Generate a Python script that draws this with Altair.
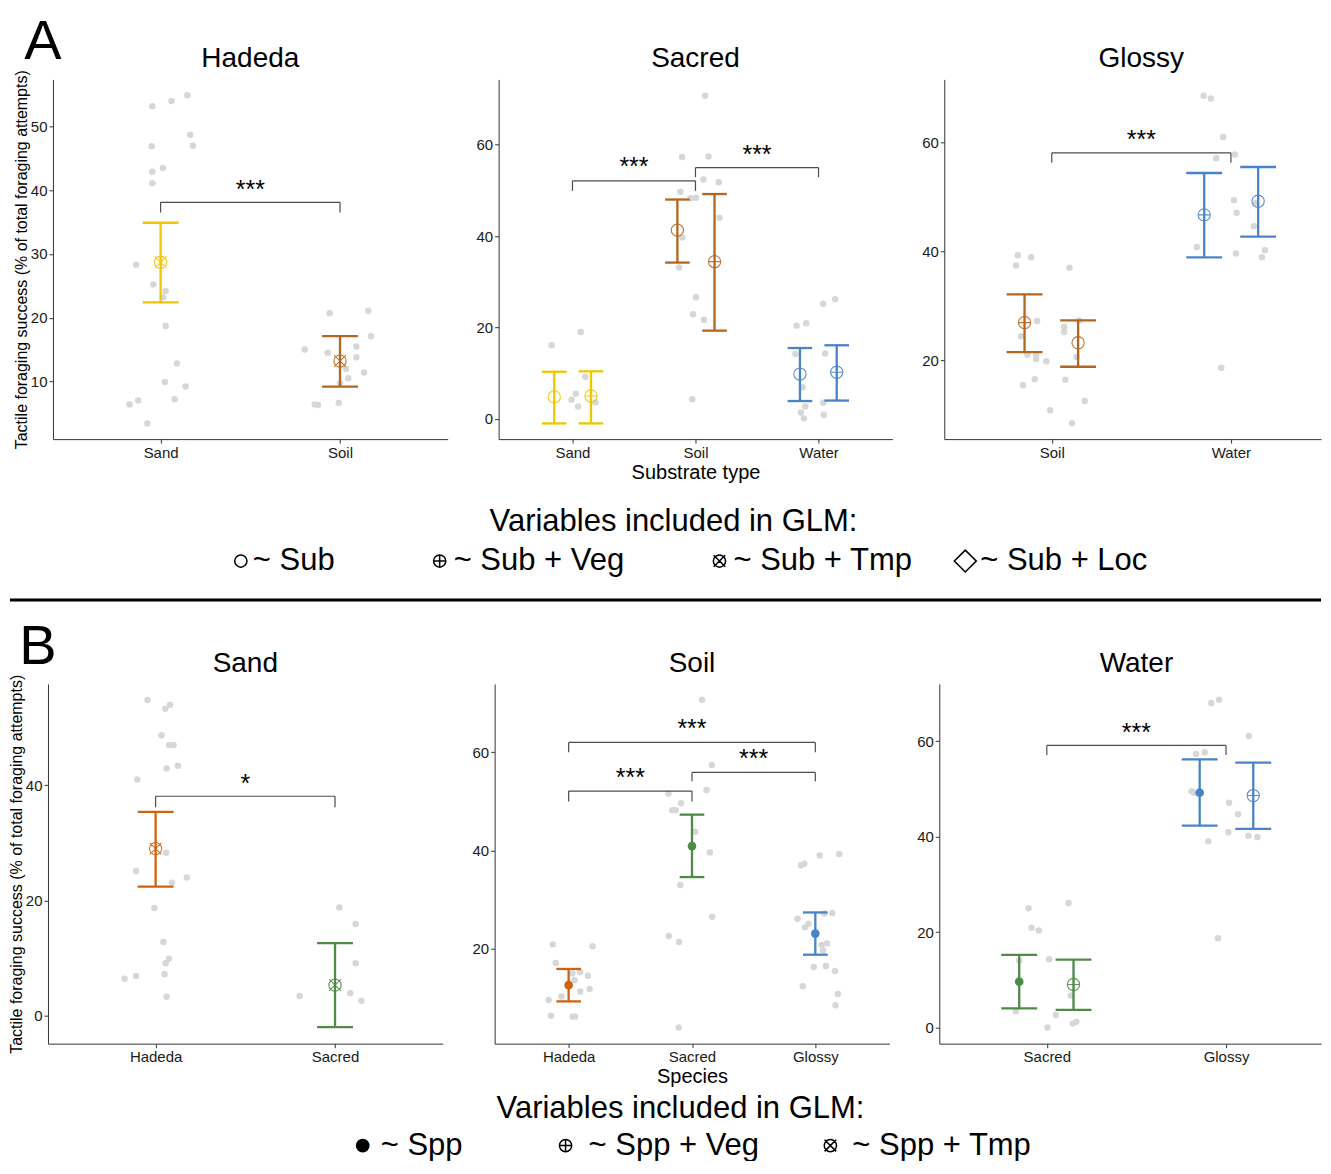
import altair as alt
import pandas as pd

FONT = "Liberation Sans"
GRAY_PT = "#D7D7D7"
BRACKET = "#4D4D4D"
COLORS = {"Sand": "#EFC600", "Soil": "#B3661F", "Water": "#4A84C8",
          "Hadeda": "#D2620F", "Sacred": "#4F8A47", "Glossy": "#4A84C8"}
CIRCLE = "M -1 0 A 1 1 0 1 0 1 0 A 1 1 0 1 0 -1 0 Z"
SHAPES = {"Sub": CIRCLE,
          "Veg": CIRCLE + " M -1 0 L 1 0 M 0 -1 L 0 1",
          "Tmp": CIRCLE + " M -0.95 -0.95 L 0.95 0.95 M -0.95 0.95 L 0.95 -0.95"}
CAP = 0.1
PANEL_H = 360

# ---------------- Panel A1: Hadeda ----------------
A1_CATS = ["Sand", "Soil"]
A1_PX = [0.954, 1.061, 1.149, 1.165, 1.180, 0.950, 0.954, 1.013, 0.954, 0.864, 0.959,
         1.028, 1.013, 1.028, 1.091, 1.024, 1.139, 0.827, 0.875, 1.078, 0.926,
         1.942, 2.158, 2.173, 1.803, 1.931, 2.091, 2.091, 2.033, 2.134, 2.046, 2.000,
         1.859, 1.877, 1.993]
A1_PY = [53.2, 54.0, 54.9, 48.7, 47.0, 46.9, 42.9, 43.5, 41.1, 28.3, 25.2,
         24.2, 23.2, 18.7, 12.8, 9.9, 9.2, 6.4, 7.0, 7.2, 3.4,
         20.7, 21.1, 17.1, 15.0, 14.5, 15.5, 13.8, 12.0, 11.4, 10.5, 9.7,
         6.4, 6.3, 6.6]
A1_MX = [1.0, 2.0]
A1_MEAN = [28.7, 13.2]
A1_LO = [22.4, 9.2]
A1_HI = [34.9, 17.1]
A1_MODEL = ["Tmp", "Tmp"]
A1_GROUP = ["Sand", "Soil"]
A1_BR = [(1, 2, 38.1, 36.5, 41.0, "***")]

# ---------------- Panel A2: Sacred ----------------
A2_CATS = ["Sand", "Soil", "Water"]
A2_PX = [0.830, 1.067, 1.105, 1.027, 0.992, 1.046, 1.188,
         2.078, 1.891, 2.106, 2.065, 2.189, 1.877, 1.961, 2.004, 2.195, 1.894, 1.867,
         2.004, 1.980, 2.069, 1.974,
         3.135, 3.038, 2.822, 2.900, 2.812, 3.054, 2.871, 2.892, 2.857, 2.881, 3.038, 3.043]
A2_PY = [16.1, 19.0, 9.2, 5.5, 4.2, 2.7, 3.6,
         70.7, 57.3, 57.4, 52.4, 51.8, 49.7, 48.3, 48.4, 44.0, 39.7, 33.1,
         26.6, 22.9, 21.7, 4.3,
         26.2, 25.2, 20.4, 20.9, 14.2, 14.3, 6.9, 2.7, 1.4, 0.1, 3.5, 0.9]
A2_MX = [0.852, 1.151, 1.853, 2.155, 2.849, 3.148]
A2_MEAN = [4.8, 5.0, 41.3, 34.4, 9.8, 10.2]
A2_LO = [-1.0, -1.0, 34.2, 19.3, 3.9, 4.0]
A2_HI = [10.3, 10.4, 48.0, 49.2, 15.5, 16.1]
A2_MODEL = ["Sub", "Veg", "Sub", "Veg", "Sub", "Veg"]
A2_GROUP = ["Sand", "Sand", "Soil", "Soil", "Water", "Water"]
A2_BR = [(1, 2, 52.1, 49.9, 56.4, "***"), (2, 3, 55.0, 52.9, 59.1, "***")]

# ---------------- Panel A3: Glossy ----------------
A3_CATS = ["Soil", "Water"]
A3_PX = [0.810, 0.885, 0.801, 1.099, 0.918, 1.069, 1.069, 1.154, 0.829, 0.864,
         0.913, 0.913, 0.970, 1.139, 0.840, 0.905, 1.076, 1.184, 0.991, 1.113,
         1.848, 1.888, 1.957, 2.022, 1.918, 2.017, 2.141, 2.032, 2.128, 1.810,
         2.028, 2.190, 2.173, 1.946]
A3_PY = [39.3, 38.9, 37.4, 37.0, 27.2, 26.1, 25.2, 27.3, 24.4, 21.0,
         20.9, 20.2, 19.8, 20.6, 15.4, 16.5, 16.4, 12.5, 10.8, 8.4,
         68.6, 68.1, 61.0, 57.8, 57.1, 49.4, 48.9, 47.1, 44.6, 40.8,
         39.6, 40.2, 38.9, 18.6]
A3_MX = [0.848, 1.147, 1.851, 2.152]
A3_MEAN = [26.9, 23.2, 46.7, 49.2]
A3_LO = [21.5, 18.8, 38.9, 42.7]
A3_HI = [32.1, 27.3, 54.4, 55.5]
A3_MODEL = ["Veg", "Sub", "Veg", "Sub"]
A3_GROUP = ["Soil", "Soil", "Water", "Water"]
A3_BR = [(1, 2, 58.1, 56.3, 61.5, "***")]

# ---------------- Panel B1: Sand ----------------
B1_CATS = ["Hadeda", "Sacred"]
B1_PX = [0.955, 1.080, 1.054, 1.033, 1.076, 1.100, 1.124, 1.061, 0.898, 1.059, 0.891,
         1.091, 1.174, 0.993, 1.043, 1.074, 1.056, 0.827, 0.891, 1.050, 1.061,
         2.024, 2.115, 2.115, 2.085, 1.803, 2.147]
B1_PY = [54.8, 54.0, 53.3, 48.7, 47.0, 47.0, 43.4, 42.9, 41.0, 28.3, 25.1,
         23.1, 24.0, 18.7, 12.8, 9.9, 9.1, 6.4, 6.9, 7.2, 3.3,
         18.8, 15.9, 9.1, 3.9, 3.4, 2.6]
B1_MX = [1.0, 2.0]
B1_MEAN = [29.0, 5.3]
B1_LO = [22.4, -2.0]
B1_HI = [35.4, 12.6]
B1_MODEL = ["Tmp", "Tmp"]
B1_GROUP = ["Hadeda", "Sacred"]
B1_BR = [(1, 2, 38.1, 36.2, 41.2, "*")]

# ---------------- Panel B2: Soil ----------------
B2_CATS = ["Hadeda", "Sacred", "Glossy"]
B2_PX = [0.871, 1.194, 0.895, 1.094, 1.156, 1.030, 1.048, 1.094, 1.170, 0.941,
         0.838, 0.857, 1.032, 1.054,
         2.081, 2.161, 2.118, 1.809, 1.911, 1.841, 1.868, 2.027, 2.145, 1.906,
         2.164, 1.812, 1.895, 1.892,
         3.035, 3.194, 2.884, 2.911, 3.137, 3.073, 2.855, 2.917, 2.944, 3.051,
         3.094, 3.062, 2.987, 3.086, 3.159, 2.898, 3.183, 3.164]
B2_PY = [20.9, 20.5, 17.1, 15.3, 14.5, 15.0, 13.6, 11.3, 11.8, 10.3,
         9.6, 6.4, 6.2, 6.2,
         70.7, 57.4, 52.3, 51.6, 49.6, 48.2, 48.2, 43.8, 39.6, 33.0,
         26.5, 22.6, 21.4, 4.0,
         39.0, 39.3, 37.0, 37.3, 27.3, 27.2, 26.1, 24.4, 25.1, 20.8,
         21.1, 19.7, 16.3, 16.5, 15.5, 12.4, 10.8, 8.5]
B2_MX = [1.0, 2.0, 3.0]
B2_MEAN = [12.6, 40.9, 23.1]
B2_LO = [9.3, 34.6, 18.8]
B2_HI = [15.9, 47.3, 27.4]
B2_MODEL = ["Spp", "Spp", "Spp"]
B2_GROUP = ["Hadeda", "Sacred", "Glossy"]
B2_BR = [(1, 2, 52.1, 50.0, 55.9, "***"), (2, 3, 55.9, 54.1, 59.8, "***"),
         (1, 3, 62.0, 60.0, 65.9, "***")]

# ---------------- Panel B3: Water ----------------
B3_CATS = ["Sacred", "Glossy"]
B3_PX = [0.898, 1.121, 0.915, 0.955, 0.846, 1.013, 1.134, 0.827, 1.050, 1.004, 1.145, 1.165,
         1.918, 1.961, 2.128, 1.833, 1.881, 1.807, 1.822, 2.017, 2.067, 2.013, 2.125,
         2.175, 1.901, 1.955]
B3_PY = [25.0, 26.1, 20.9, 20.3, 14.0, 14.3, 6.7, 3.4, 2.6, 0.0, 0.8, 1.2,
         68.0, 68.7, 61.1, 57.3, 57.7, 49.5, 49.2, 47.1, 44.7, 40.9, 40.2,
         39.9, 39.0, 18.7]
B3_MX = [0.846, 1.149, 1.853, 2.152]
B3_MEAN = [9.6, 9.0, 49.2, 48.6]
B3_LO = [4.0, 3.7, 42.3, 41.6]
B3_HI = [15.2, 14.2, 56.2, 55.5]
B3_MODEL = ["Spp", "Veg", "Spp", "Veg"]
B3_GROUP = ["Sacred", "Sacred", "Glossy", "Glossy"]
B3_BR = [(1, 2, 59.1, 57.1, 63.0, "***")]

YTITLE = "Tactile foraging success (% of total foraging attempts)"
LEG_TITLE = "Variables included in GLM:"
LEG_A = [("Sub", "~ Sub"), ("Veg", "~ Sub + Veg"), ("Tmp", "~ Sub + Tmp"), ("Loc", "~ Sub + Loc")]
LEG_B = [("Spp", "~ Spp"), ("Veg", "~ Spp + Veg"), ("Tmp", "~ Spp + Tmp")]

ONE = pd.DataFrame({"t": [""]})


def text_layer(txt, x, y, size, align="center", baseline="alphabetic"):
    return alt.Chart(pd.DataFrame({"t": [txt]})).mark_text(
        font=FONT, fontSize=size, align=align, baseline=baseline, color="black").encode(
        x=alt.value(x), y=alt.value(y), text="t:N")


def hrule(x1, x2, y, width=1.0, opacity=1.0):
    return alt.Chart(ONE).mark_rule(color="black", strokeWidth=width, opacity=opacity).encode(
        x=alt.value(x1), x2=alt.value(x2), y=alt.value(y))


def legend_layers(items, sym_x, txt_x, title_x, y_title, y_items):
    layers = [text_layer(LEG_TITLE, title_x, y_title, 31, baseline="middle")]
    for (key, lab), sx, tx in zip(items, sym_x, txt_x):
        if key == "Spp":
            mk = alt.Chart(ONE).mark_point(shape="circle", filled=True, size=190, color="black", opacity=1)
        elif key == "Loc":
            mk = alt.Chart(ONE).mark_point(shape="diamond", filled=False, size=480, color="black",
                                           strokeWidth=1.6, opacity=1)
        else:
            mk = alt.Chart(ONE).mark_point(shape=SHAPES[key], filled=False, size=150, color="black",
                                           strokeWidth=1.5, opacity=1)
        layers.append(mk.encode(x=alt.value(sx), y=alt.value(y_items)))
        layers.append(text_layer(lab, tx, y_items, 31, align="left", baseline="middle"))
    return layers


def build_panel(title, cats, px, py, mx, mean, lo, hi, model, group, brackets,
                ydom, yticks, width, ytitle=None, xtitle=None, extra=None, xmax=None):
    n = len(cats)
    expr = "".join(f"datum.value == {i + 1} ? '{c}' : " for i, c in enumerate(cats)) + "''"
    xs = alt.Scale(domain=[0.4, xmax if xmax else n + 0.6], nice=False, zero=False)
    ys = alt.Scale(domain=ydom, nice=False, zero=False)
    xax = alt.Axis(values=list(range(1, n + 1)), labelExpr=expr, title=xtitle,
                   titleFontSize=20, titlePadding=2, labelFlush=False, labelOverlap=False)
    yax = alt.Axis(values=yticks, title=ytitle, titleFontSize=16, titlePadding=1,
                   labelFlush=False)

    def X(f):
        return alt.X(f, type="quantitative", scale=xs, axis=xax)

    def Y(f):
        return alt.Y(f, type="quantitative", scale=ys, axis=yax)

    col = alt.Color("col:N", scale=None)
    pts = pd.DataFrame({"x": px, "y": py})
    summ = pd.DataFrame({"x": mx, "m": mean, "lo": lo, "hi": hi, "model": model, "grp": group})
    summ["col"] = summ["grp"].map(COLORS)
    summ["xl"] = summ["x"] - CAP
    summ["xr"] = summ["x"] + CAP

    layers = [
        alt.Chart(pts).mark_circle(size=42, color=GRAY_PT, opacity=1).encode(x=X("x"), y=Y("y")),
        alt.Chart(summ).mark_rule(strokeWidth=2.3).encode(x=X("x"), y=Y("lo"), y2="hi:Q", color=col),
        alt.Chart(summ).mark_rule(strokeWidth=2.3).encode(x=X("xl"), x2="xr:Q", y=Y("lo"), color=col),
        alt.Chart(summ).mark_rule(strokeWidth=2.3).encode(x=X("xl"), x2="xr:Q", y=Y("hi"), color=col),
    ]
    op = summ[summ["model"] != "Spp"]
    if len(op):
        layers.append(
            alt.Chart(op).mark_point(filled=False, size=150, strokeWidth=1.1, opacity=0.9).encode(
                x=X("x"), y=Y("m"), color=col,
                shape=alt.Shape("model:N", scale=alt.Scale(domain=list(SHAPES), range=list(SHAPES.values())),
                                legend=None)))
    fl = summ[summ["model"] == "Spp"]
    if len(fl):
        layers.append(
            alt.Chart(fl).mark_point(filled=True, shape="circle", size=75, opacity=1).encode(
                x=X("x"), y=Y("m"), color=col))

    segs = []
    labs = []
    for (x1, x2, ytop, ytip, ylab, lab) in brackets:
        segs.append({"a": x1, "b": x2, "y1": ytop, "y2": ytop})
        segs.append({"a": x1, "b": x1, "y1": ytip, "y2": ytop})
        segs.append({"a": x2, "b": x2, "y1": ytip, "y2": ytop})
        labs.append({"xm": (x1 + x2) / 2, "yl": ylab, "lab": lab})
    layers.append(alt.Chart(pd.DataFrame(segs)).mark_rule(color=BRACKET, strokeWidth=1.2).encode(
        x=X("a"), x2="b:Q", y=Y("y1"), y2="y2:Q"))
    layers.append(alt.Chart(pd.DataFrame(labs)).mark_text(
        font=FONT, fontSize=25, dy=14, baseline="alphabetic", color="black").encode(
        x=X("xm"), y=Y("yl"), text="lab:N"))
    # panel title, centred over the full (uncropped) panel
    full_w = width * (n + 0.2) / ((xmax if xmax else n + 0.6) - 0.4)
    layers.append(text_layer(title, full_w / 2, -12, 28))
    if extra:
        layers.extend(extra)
    return alt.layer(*layers).properties(width=width, height=PANEL_H)


def spacer(w, h=PANEL_H):
    return alt.Chart(pd.DataFrame({"s": [0]})).mark_point(opacity=0).encode(
        x=alt.value(0), y=alt.value(0)).properties(width=w, height=h)


# row A extras (pA1 origin is 5 px right of the row origin)
extraA = [text_layer("A", -10, -20, 56),
          hrule(100, 101, -70.5, opacity=0),          # fixes top bound
          hrule(100, 101, PANEL_H + 149, opacity=0)]  # fixes bottom bound of row A
extraA += legend_layers(LEG_A, [188, 387, 667, 913], [200, 401, 681, 928], 621,
                        PANEL_H + 83, PANEL_H + 122)
# row B extras
extraB = [text_layer("B", -10, -20, 56),
          hrule(-38, 1274, -84, width=3),              # separator line
          hrule(100, 101, -96, opacity=0)]             # fixes top bound of row B
extraB += legend_layers(LEG_B, [315, 518, 783], [333, 541, 805], 633, PANEL_H + 65, PANEL_H + 102)

pA1 = build_panel("Hadeda", A1_CATS, A1_PX, A1_PY, A1_MX, A1_MEAN, A1_LO, A1_HI, A1_MODEL, A1_GROUP,
                  A1_BR, [0.95, 57.4], [10, 20, 30, 40, 50], 395, ytitle=YTITLE, extra=extraA)
pA2 = build_panel("Sacred", A2_CATS, A2_PX, A2_PY, A2_MX, A2_MEAN, A2_LO, A2_HI, A2_MODEL, A2_GROUP,
                  A2_BR, [-4.44, 74.3], [0, 20, 40, 60], 394, xtitle="Substrate type")
pA3 = build_panel("Glossy", A3_CATS, A3_PX, A3_PY, A3_MX, A3_MEAN, A3_LO, A3_HI, A3_MODEL, A3_GROUP,
                  A3_BR, [5.5, 71.6], [20, 40, 60], 377, xmax=2.503)
pB1 = build_panel("Sand", B1_CATS, B1_PX, B1_PY, B1_MX, B1_MEAN, B1_LO, B1_HI, B1_MODEL, B1_GROUP,
                  B1_BR, [-4.86, 57.6], [0, 20, 40], 395, ytitle=YTITLE, extra=extraB)
pB2 = build_panel("Soil", B2_CATS, B2_PX, B2_PY, B2_MX, B2_MEAN, B2_LO, B2_HI, B2_MODEL, B2_GROUP,
                  B2_BR, [0.7, 73.9], [20, 40, 60], 395, xtitle="Species")
pB3 = build_panel("Water", B3_CATS, B3_PX, B3_PY, B3_MX, B3_MEAN, B3_LO, B3_HI, B3_MODEL, B3_GROUP,
                  B3_BR, [-3.4, 72.0], [0, 20, 40, 60], 382, xmax=2.530)

rowA = alt.hconcat(spacer(5), pA1, spacer(51), pA2, spacer(52), pA3, spacing=0, bounds="flush")
rowB = alt.hconcat(pB1, spacer(52), pB2, spacer(50), pB3, spacing=0, bounds="flush")

chart = alt.vconcat(rowA, rowB, spacing=0).properties(
    padding=0
).configure(font=FONT, background="white").configure_view(stroke=None).configure_axis(
    grid=False, domainColor="#333333", domainWidth=1, tickColor="#333333", tickSize=4, tickWidth=1,
    labelFont=FONT, labelFontSize=15, labelColor="#1A1A1A", labelPadding=2,
    titleFont=FONT, titleFontWeight="normal", titleColor="black"
)

chart.save("out.html", embed_options={"renderer": "svg", "actions": False})
